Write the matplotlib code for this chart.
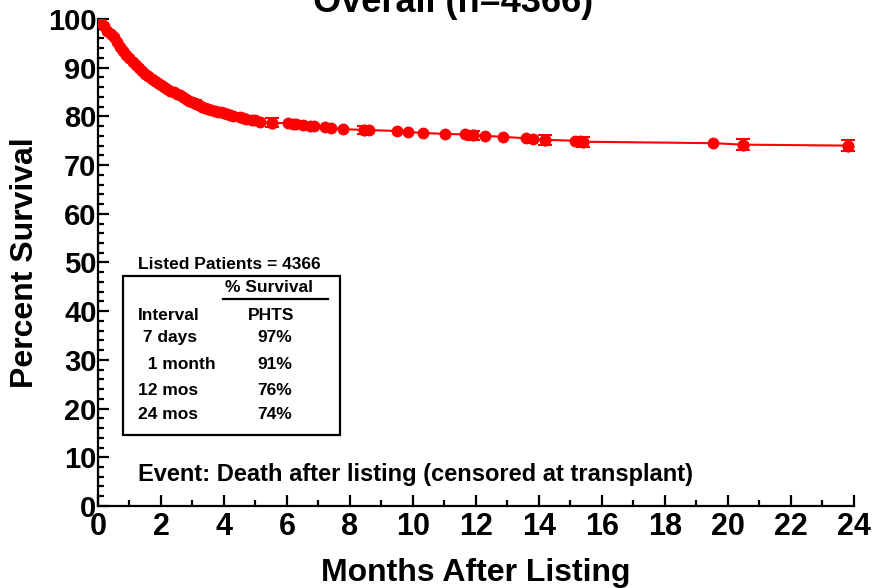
import matplotlib
matplotlib.use("Agg")
import matplotlib.pyplot as plt
from matplotlib.patches import Rectangle
from matplotlib.ticker import MultipleLocator

plt.rcParams['font.family'] = ['Liberation Sans', 'DejaVu Sans']
plt.rcParams['font.weight'] = 'bold'

# Kaplan-Meier estimate (months, percent surviving)
months = [0.0, 0.1, 0.2, 0.3, 0.4, 0.5, 0.6, 0.7, 0.8, 0.9,
          1.0, 1.1, 1.2, 1.3, 1.4, 1.5, 1.6, 1.7, 1.8, 1.9,
          2.0, 2.1, 2.2, 2.3, 2.4, 2.5, 2.6, 2.7, 2.8, 2.9,
          3.0, 3.1, 3.2, 3.3, 3.4, 3.5, 3.6, 3.7, 3.8, 3.9,
          4.0, 4.1, 4.2, 4.3, 4.5, 4.6, 4.7, 4.9, 5.0, 5.14,
          5.51, 6.04, 6.2, 6.3, 6.5, 6.73, 6.85, 7.2, 7.4, 7.77,
          8.45, 8.6, 9.48, 9.85, 10.33, 11.02, 11.65, 11.9, 12.3, 12.85,
          13.6, 13.8, 14.2, 15.14, 15.3, 15.4, 19.53, 20.47, 23.8]
survival = [100.0, 99.2, 98.5, 97.6, 96.9, 96.2, 95.2, 94.3, 93.5, 92.6,
            91.9, 91.2, 90.5, 89.9, 89.3, 88.7, 88.2, 87.7, 87.2, 86.8,
            86.4, 86.0, 85.6, 85.3, 85.0, 84.6, 84.3, 84.0, 83.6, 83.2,
            82.9, 82.6, 82.3, 82.0, 81.8, 81.6, 81.4, 81.2, 81.0, 80.8,
            80.6, 80.5, 80.3, 80.1, 79.8, 79.7, 79.5, 79.3, 79.2, 78.9,
            78.7, 78.6, 78.5, 78.4, 78.3, 78.1, 78.0, 77.8, 77.6, 77.4,
            77.2, 77.2, 77.0, 76.8, 76.6, 76.4, 76.3, 76.1, 76.0, 75.8,
            75.5, 75.4, 75.2, 75.0, 74.9, 74.8, 74.5, 74.2, 74.0]

# points that carry a confidence bar (half width in percent)
err_months = [3.08, 5.51, 8.45, 11.9, 14.2, 15.4, 20.47, 23.8]
err_surv = [82.7, 78.7, 77.2, 76.1, 75.2, 74.8, 74.2, 74.0]
err_half = [0.6, 0.9, 0.85, 1.0, 1.0, 1.0, 1.1, 1.2]

table_rows = [" 7 days", "  1 month", "12 mos", "24 mos"]
table_pcts = ["97%", "91%", "76%", "74%"]
n_listed = 4366

red = '#ff0000'

fig = plt.figure(figsize=(8.74, 5.88), dpi=100)
ax = fig.add_axes([0.1121, 0.1395, 0.865, 0.8282])

ax.plot(months, survival, color=red, lw=1.5, marker='o', ms=7.5, mec=red, zorder=3)
ax.errorbar(err_months, err_surv, yerr=err_half, fmt='o', color=red, ms=7.5,
            capsize=5, elinewidth=1.5, capthick=1.5, zorder=3)

ax.set_xlim(0, 24)
ax.set_ylim(0, 100)
ax.xaxis.set_major_locator(MultipleLocator(2))
ax.xaxis.set_minor_locator(MultipleLocator(1))
ax.yaxis.set_major_locator(MultipleLocator(10))
ax.yaxis.set_minor_locator(MultipleLocator(2))
ax.tick_params(which='both', direction='in', width=1.6, colors='black')
ax.tick_params(which='major', length=8)
ax.tick_params(which='minor', length=4)
ax.tick_params(axis='x', labelsize=22, pad=4)
ax.tick_params(axis='y', labelsize=21, pad=1)
for lab in ax.get_xticklabels() + ax.get_yticklabels():
    lab.set_fontweight('bold')

for side in ['top', 'right']:
    ax.spines[side].set_visible(False)
for side in ['left', 'bottom']:
    ax.spines[side].set_linewidth(1.6)
ax.patch.set_visible(False)

ax.set_xlabel("Months After Listing", fontsize=23, fontweight='bold', labelpad=12)
ax.set_ylabel("Percent Survival", fontsize=23, fontweight='bold', labelpad=6)
fig.text(0.518, 0.98, f"Overall (n={n_listed})", fontsize=26, fontweight='bold',
         ha='center', va='baseline')

# summary table
fs = 12.5
ax.text(1.27, 49.5, f"Listed Patients = {n_listed}", fontsize=fs, va='center')
ax.add_patch(Rectangle((0.79, 14.6), 6.89, 32.7, fill=False, lw=1.6,
                       ec='black', zorder=2))
ax.text(4.03, 44.8, "% Survival", fontsize=fs, va='center')
ax.plot([3.97, 7.30], [42.5, 42.5], color='black', lw=1.6)
ax.text(1.27, 39.2, "Interval", fontsize=fs, va='center')
ax.text(4.76, 39.2, "PHTS", fontsize=fs, va='center')
row_y = [34.5, 29.0, 23.8, 18.7]
for label, pct, y in zip(table_rows, table_pcts, row_y):
    ax.text(1.27, y, label, fontsize=fs, va='center')
    ax.text(5.05, y, pct, fontsize=fs, va='center')

ax.text(1.27, 5.1, "Event: Death after listing (censored at transplant)",
        fontsize=17, va='baseline')

fig.savefig("out.png", dpi=100)
